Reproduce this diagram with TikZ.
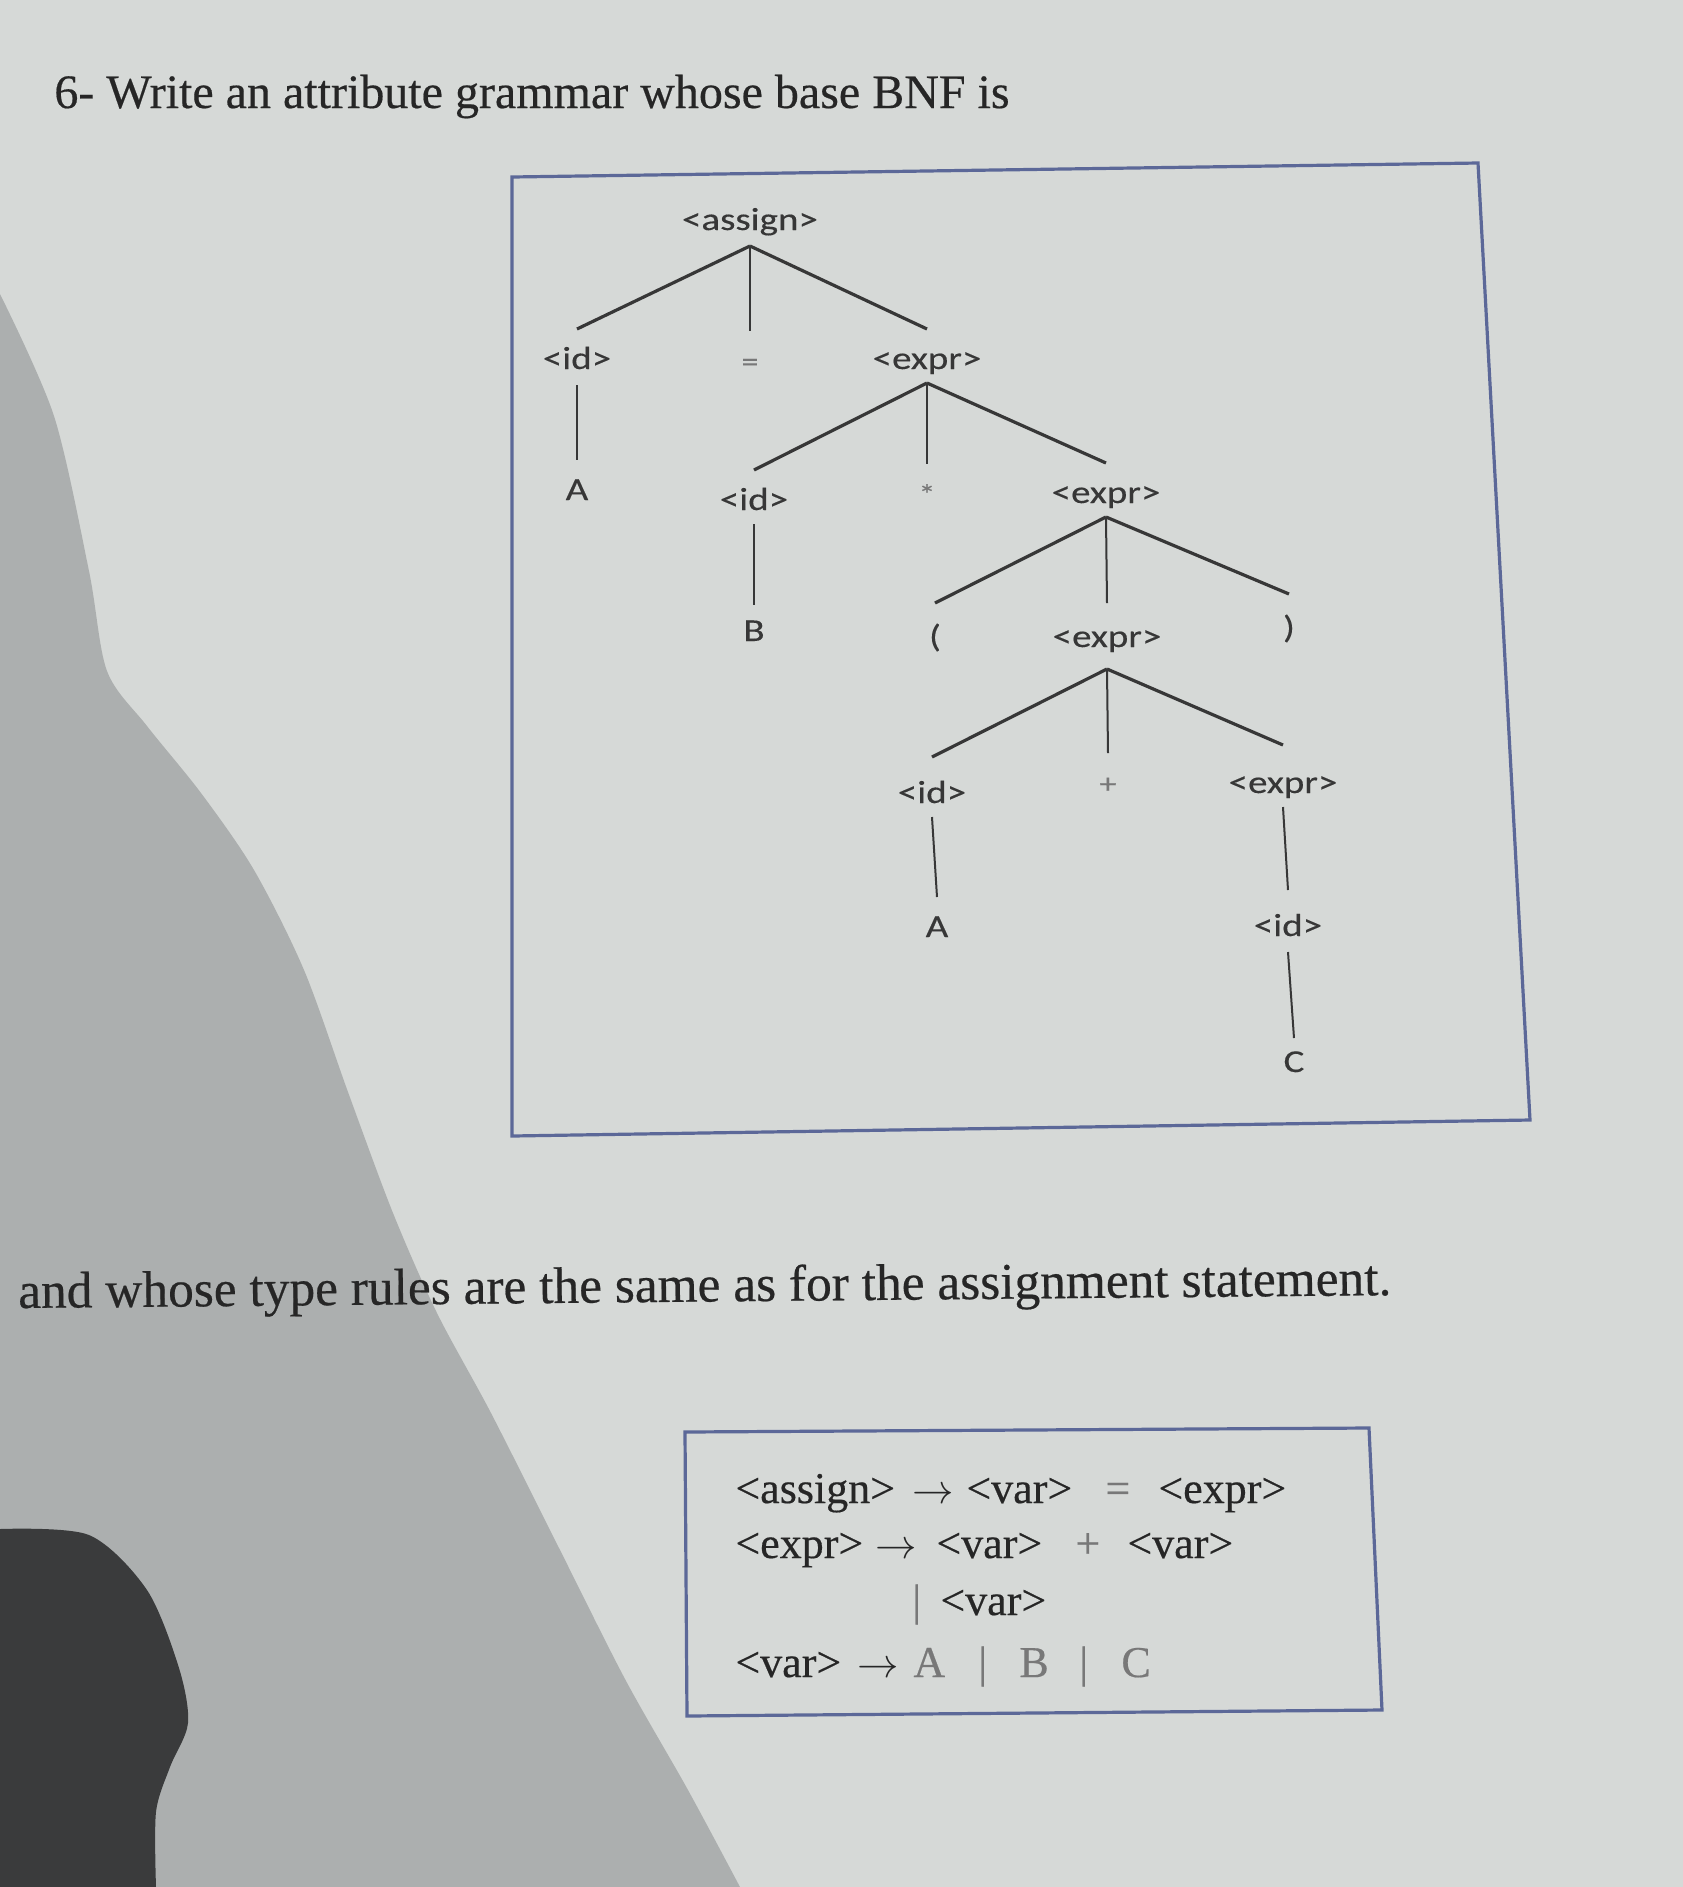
\documentclass[tikz,border=0pt]{standalone}
\usepackage{fontspec}
\setmainfont[FakeBold=0.4]{Liberation Serif}
\newfontfamily\treefont[FakeBold=0.3]{Carlito}
\definecolor{paper}{RGB}{214,217,215}
\definecolor{shadowc}{RGB}{172,175,175}
\definecolor{blobc}{RGB}{58,59,60}
\definecolor{boxc}{RGB}{92,104,152}
\definecolor{ink}{RGB}{38,38,38}
\definecolor{treeink}{RGB}{55,55,55}
\definecolor{lightink}{RGB}{120,120,120}
\newcommand{\tw}[1]{\scalebox{1.22}[1]{#1}}
\tikzset{
  tn/.style={font=\treefont\fontsize{16}{19}\selectfont, text=treeink, inner sep=0pt, anchor=base},
  tsym/.style={font=\treefont\fontsize{14}{17}\selectfont, text=lightink, inner sep=0pt, anchor=base},
  br/.style={draw=treeink, line width=1.6pt},
  vl/.style={draw=treeink, line width=1pt},
  boxline/.style={draw=boxc, line width=1.6pt},
  bnf/.style={font=\fontsize{22}{26}\selectfont, text=ink, inner sep=0pt, anchor=base west},
  bnfl/.style={font=\fontsize{22}{26}\selectfont, text=lightink, inner sep=0pt, anchor=base west},
}
\begin{document}
\begin{tikzpicture}[x=0.5pt,y=-0.5pt]
\useasboundingbox (0,0) rectangle (1683,1887);
\fill[paper] (0,0) rectangle (1683,1887);
% shadow
\fill[shadowc] plot[smooth] coordinates {(0,294) (54,416) (89,571) (107,671) (147,726) (201,793) (254,870) (304,970) (348,1092) (393,1213) (437,1313) (491,1413) (558,1546) (625,1679) (688,1790) (740,1887)} -- (0,1887) -- cycle;
\fill[blobc] plot[smooth] coordinates {(0,1529) (89,1535) (147,1590) (179,1668) (188,1723) (170,1767) (156,1812) (156,1887)} -- (0,1887) -- cycle;

% title
\node[font=\fontsize{24}{28}\selectfont, text=ink, inner sep=0pt, anchor=base west] (title) at (54,108) {6- Write an attribute grammar whose base BNF is};

% tree box
\draw[boxline] (512,177) -- (1478,163) -- (1530,1120) -- (512,1136) -- cycle;

% tree nodes
\node[tn] (assign) at (750,230) {\tw{<assign>}};
\node[tn] (id1) at (577,369) {\tw{<id>}};
\node[tsym] (eq) at (750,371) {\tw{=}};
\node[tn] (expr1) at (927,369) {\tw{<expr>}};
\node[tn] (A1) at (577,500) {\tw{A}};
\node[tn] (id2) at (754,510) {\tw{<id>}};
\node[tsym] (star) at (927,504) {\tw{*}};
\node[tn] (expr2) at (1106,503) {\tw{<expr>}};
\node[tn] (B) at (754,641) {\tw{B}};
\node[tn] (lpar) at (935,647) {\tw{(}};
\node[tn] (expr3) at (1107,647) {\tw{<expr>}};
\node[tn] (rpar) at (1289,638) {\tw{)}};
\node[tn] (id4) at (932,803) {\tw{<id>}};
\node[tsym] (plus) at (1108,793) {\tw{+}};
\node[tn] (expr4) at (1283,793) {\tw{<expr>}};
\node[tn] (A2) at (937,937) {\tw{A}};
\node[tn] (id5) at (1288,936) {\tw{<id>}};
\node[tn] (C) at (1294,1072) {\tw{C}};

% tree edges
\draw[br] ([yshift=-8pt]assign.base) -- ([yshift=20pt]id1.base);
\draw[vl] ([yshift=-8pt]assign.base) -- ([yshift=20pt]eq.base);
\draw[br] ([yshift=-8pt]assign.base) -- ([yshift=20pt]expr1.base);
\draw[vl] ([yshift=-8pt]id1.base) -- ([yshift=20pt]A1.base);
\draw[br] ([yshift=-7pt]expr1.base) -- ([yshift=20pt]id2.base);
\draw[vl] ([yshift=-7pt]expr1.base) -- ([yshift=20pt]star.base);
\draw[br] ([yshift=-7pt]expr1.base) -- ([yshift=20pt]expr2.base);
\draw[vl] ([yshift=-7pt]id2.base) -- ([yshift=18pt]B.base);
\draw[br] ([yshift=-7pt]expr2.base) -- ([yshift=22pt]lpar.base);
\draw[vl] ([yshift=-7pt]expr2.base) -- ([yshift=22pt]expr3.base);
\draw[br] ([yshift=-7pt]expr2.base) -- ([yshift=22pt]rpar.base);
\draw[br] ([yshift=-11pt]expr3.base) -- ([yshift=23pt]id4.base);
\draw[vl] ([yshift=-11pt]expr3.base) -- ([yshift=20pt]plus.base);
\draw[br] ([yshift=-11pt]expr3.base) -- ([yshift=24pt]expr4.base);
\draw[vl] ([yshift=-7pt]id4.base) -- ([yshift=20pt]A2.base);
\draw[vl] ([yshift=-7pt]expr4.base) -- ([yshift=23pt]id5.base);
\draw[vl] ([yshift=-8pt]id5.base) -- ([yshift=17pt]C.base);

% second sentence
\node[font=\fontsize{25.7}{30}\selectfont, text=ink, inner sep=0pt, anchor=base west, rotate=0.54] (rules) at (18,1308) {and whose type rules are the same as for the assignment statement.};

% BNF box
\draw[boxline] (685,1432) -- (1369,1428) -- (1382,1710) -- (687,1716) -- cycle;
\node[bnf] (l1a) at (735,1503) {<assign>};
\node[bnf] (l1b) at (912,1503) {$\rightarrow$};
\node[bnf] (l1c) at (966,1503) {<var>};
\node[bnfl] (l1d) at (1105,1503) {=};
\node[bnf] (l1e) at (1158,1503) {<expr>};
\node[bnf] (l2a) at (735,1558) {<expr>};
\node[bnf] (l2b) at (875,1558) {$\rightarrow$};
\node[bnf] (l2c) at (936,1558) {<var>};
\node[bnfl] (l2d) at (1075,1558) {+};
\node[bnf] (l2e) at (1127,1558) {<var>};
\node[bnfl] (l3a) at (912,1615) {|};
\node[bnf] (l3b) at (940,1615) {<var>};
\node[bnf] (l4a) at (735,1677) {<var>};
\node[bnf] (l4b) at (857,1677) {$\rightarrow$};
\node[bnfl] (l4c) at (913,1677) {A};
\node[bnfl] (l4d) at (978,1677) {|};
\node[bnfl] (l4e) at (1019,1677) {B};
\node[bnfl] (l4f) at (1079,1677) {|};
\node[bnfl] (l4g) at (1121,1677) {C};
\end{tikzpicture}
\end{document}
